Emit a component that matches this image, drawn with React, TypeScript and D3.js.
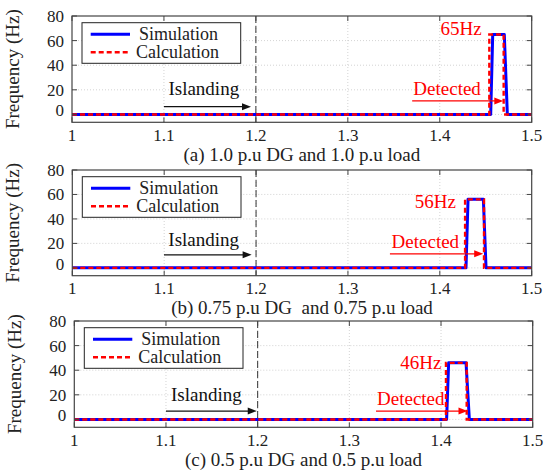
import React from "react";
import * as d3 from "d3";

// Time axis (s) and frequency (Hz) of each run
const timeSimA = [1, 1.4554, 1.4576, 1.4702, 1.4735, 1.5];
const freqSimA = [0, 0, 65, 65, 0, 0];
const timeCalcA = [1, 1.4539, 1.4539, 1.4695, 1.4695, 1.5];
const freqCalcA = [0, 0, 65, 65, 0, 0];

const timeSimB = [1, 1.4285, 1.4307, 1.4474, 1.4503, 1.5];
const freqSimB = [0, 0, 56, 56, 0, 0];
const timeCalcB = [1, 1.4275, 1.4275, 1.4481, 1.4481, 1.5];
const freqCalcB = [0, 0, 56, 56, 0, 0];

const timeSimC = [1, 1.4061, 1.4083, 1.4273, 1.4309, 1.5];
const freqSimC = [0, 0, 46, 46, 0, 0];
const timeCalcC = [1, 1.4054, 1.4054, 1.428, 1.428, 1.5];
const freqCalcC = [0, 0, 46, 46, 0, 0];

const xTicks = [1, 1.1, 1.2, 1.3, 1.4, 1.5];
const yTicks = [0, 20, 40, 60, 80];
const islandingTime = 1.2;
const peakLabels = ["65Hz", "56Hz", "46Hz"];
const captions = [
  "(a) 1.0 p.u DG and 1.0 p.u load",
  "(b) 0.75 p.u DG  and 0.75 p.u load",
  "(c) 0.5 p.u DG and 0.5 p.u load",
];
const seriesNames = ["Simulation", "Calculation"];

const zip = (t: number[], f: number[]) => t.map((v, i) => [v, f[i]] as [number, number]);

// Frame placement and annotation anchors (data coordinates) for each panel
const panels = [
  {
    box: { left: 72, right: 531.7, top: 16, bottom: 122.3 },
    sim: zip(timeSimA, freqSimA),
    calc: zip(timeCalcA, freqCalcA),
    peak: peakLabels[0],
    peakAt: [1.4456, 64.6],
    isl: { text: [1.1049, 15.4], arrow: [1.1, 1.1947, 6.3] },
    det: { text: [1.3713, 15.8], arrow: [1.37, 1.4691, 11] },
    caption: captions[0],
  },
  {
    box: { left: 72.3, right: 531.7, top: 170, bottom: 275.7 },
    sim: zip(timeSimB, freqSimB),
    calc: zip(timeCalcB, freqCalcB),
    peak: peakLabels[1],
    peakAt: [1.4175, 48.9],
    isl: { text: [1.1045, 17.7], arrow: [1.0998, 1.1952, 10.7] },
    det: { text: [1.3475, 16.4], arrow: [1.3457, 1.4472, 11.5] },
    caption: captions[1],
  },
  {
    box: { left: 74.3, right: 532.7, top: 321, bottom: 427.3 },
    sim: zip(timeSimC, freqSimC),
    calc: zip(timeCalcC, freqCalcC),
    peak: peakLabels[2],
    peakAt: [1.4004, 40.7],
    isl: { text: [1.1055, 15.3], arrow: [1.1, 1.199, 6.8] },
    det: { text: [1.3302, 11.9], arrow: [1.3291, 1.4289, 6.8] },
    caption: captions[2],
  },
];

const FONT = "'Liberation Serif', 'Times New Roman', serif";
const FRAME = "#444";
const BLUE = "#0000ff";
const RED = "#ff0000";

function Arrow({ x1, x2, y, color }: { x1: number; x2: number; y: number; color: string }) {
  const head = 9;
  return (
    <g>
      <line x1={x1} x2={x2 - head + 1} y1={y} y2={y} stroke={color} strokeWidth={1.2} />
      <path d={`M${x2},${y} L${x2 - head},${y - 3.5} L${x2 - head},${y + 3.5} Z`} fill={color} />
    </g>
  );
}

function Panel({ p }: { p: (typeof panels)[number] }) {
  const { left, right, top, bottom } = p.box;
  const x = d3.scaleLinear().domain([1, 1.5]).range([left, right]);
  const y = d3.scaleLinear().domain([-6.4, 80]).range([bottom, top]);
  const line = d3
    .line<[number, number]>()
    .x((d) => x(d[0]))
    .y((d) => y(d[1]));
  const tickLen = 5;
  const lg = { x: left + 10, y: top + 6.7, w: 158.7, h: 40.6 };
  return (
    <g fontFamily={FONT}>
      <rect x={left} y={top} width={right - left} height={bottom - top} fill="#fff" />
      {/* grid */}
      {xTicks.slice(1, -1).map((t) => (
        <line key={"gx" + t} x1={x(t)} x2={x(t)} y1={top} y2={bottom} stroke="#c8c8c8" strokeWidth={0.8} strokeDasharray="1,2" />
      ))}
      {yTicks.slice(0, -1).map((t) => (
        <line key={"gy" + t} x1={left} x2={right} y1={y(t)} y2={y(t)} stroke="#c8c8c8" strokeWidth={0.8} strokeDasharray="1,2" />
      ))}
      {/* islanding instant */}
      <line x1={x(islandingTime)} x2={x(islandingTime)} y1={top} y2={bottom} stroke="#333" strokeWidth={1} strokeDasharray="7,3" />
      {/* series */}
      <path d={line(p.sim) || ""} fill="none" stroke={BLUE} strokeWidth={3} strokeLinejoin="round" />
      <path d={line(p.calc) || ""} fill="none" stroke={RED} strokeWidth={2.4} strokeDasharray="5,3" />
      {/* frame and ticks */}
      <rect x={left} y={top} width={right - left} height={bottom - top} fill="none" stroke={FRAME} strokeWidth={1.2} />
      {xTicks.map((t) => (
        <g key={"tx" + t}>
          <line x1={x(t)} x2={x(t)} y1={bottom} y2={bottom - tickLen} stroke={FRAME} />
          <line x1={x(t)} x2={x(t)} y1={top} y2={top + tickLen} stroke={FRAME} />
          <text x={x(t)} y={bottom + 18.5} textAnchor="middle" fontSize={17} fill="#222">
            {String(t)}
          </text>
        </g>
      ))}
      {yTicks.map((t) => (
        <g key={"ty" + t}>
          <line x1={left} x2={left + tickLen} y1={y(t)} y2={y(t)} stroke={FRAME} />
          <line x1={right} x2={right - tickLen} y1={y(t)} y2={y(t)} stroke={FRAME} />
          <text x={left - 8} y={y(t) + (t === 0 ? 2 : 6)} textAnchor="end" fontSize={17} fill="#222">
            {String(t)}
          </text>
        </g>
      ))}
      <text
        transform={`translate(${left - 53},${(top + bottom) / 2}) rotate(-90)`}
        textAnchor="middle"
        fontSize={19}
        fill="#222"
      >
        Frequency (Hz)
      </text>
      {/* legend */}
      <rect x={lg.x} y={lg.y} width={lg.w} height={lg.h} fill="#fff" stroke="#222" strokeWidth={1} />
      <line x1={lg.x + 8.7} x2={lg.x + 48} y1={lg.y + 11.6} y2={lg.y + 11.6} stroke={BLUE} strokeWidth={3} />
      <line x1={lg.x + 8.7} x2={lg.x + 48} y1={lg.y + 29.6} y2={lg.y + 29.6} stroke={RED} strokeWidth={2.4} strokeDasharray="5,3" />
      <text x={lg.x + 57} y={lg.y + 17.3} fontSize={18} fill="#222">{seriesNames[0]}</text>
      <text x={lg.x + 54} y={lg.y + 35.6} fontSize={18} fill="#222">{seriesNames[1]}</text>
      {/* annotations */}
      <text x={x(p.isl.text[0])} y={y(p.isl.text[1])} fontSize={19} fill="#111">Islanding</text>
      <Arrow x1={x(p.isl.arrow[0])} x2={x(p.isl.arrow[1])} y={y(p.isl.arrow[2])} color="#111" />
      <text x={x(p.det.text[0])} y={y(p.det.text[1])} fontSize={19} fill={RED}>Detected</text>
      <Arrow x1={x(p.det.arrow[0])} x2={x(p.det.arrow[1])} y={y(p.det.arrow[2])} color={RED} />
      <text x={x(p.peakAt[0])} y={y(p.peakAt[1])} textAnchor="end" fontSize={19} fill={RED}>{p.peak}</text>
      <text x={(left + right) / 2} y={bottom + 38.5} textAnchor="middle" fontSize={19} fill="#222" style={{ whiteSpace: "pre" }}>
        {p.caption}
      </text>
    </g>
  );
}

export default function App() {
  return (
    <svg
      width={545}
      height={472}
      viewBox="0 0 545 472"
      style={{ position: "absolute", left: 0, top: 0, background: "#fff" }}
    >
      <rect width={545} height={472} fill="#fff" />
      {panels.map((p, i) => (
        <Panel key={i} p={p} />
      ))}
    </svg>
  );
}
